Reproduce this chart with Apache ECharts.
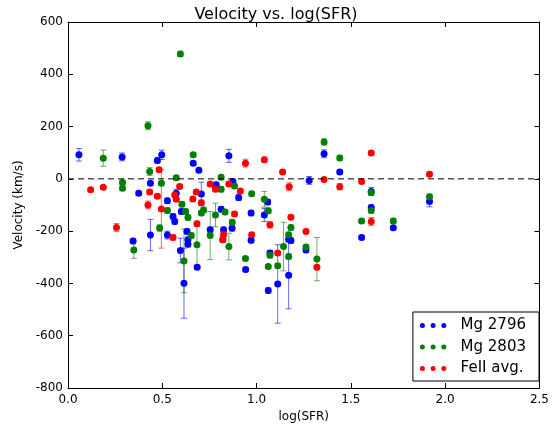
<!DOCTYPE html>
<html>
<head>
<meta charset="utf-8">
<script src="https://cdn.jsdelivr.net/npm/echarts@6/dist/echarts.min.js"></script>
<style>html,body{margin:0;padding:0;background:#fff}#c{width:552px;height:429px}</style>
</head>
<body>
<div id="c"></div>
<script>
// [logSFR, velocity, error]
const mg2796 = [
  [0.058, 92, 24], [0.287, 84, 15], [0.474, 70, 10], [0.497, 92, 18], [0.664, 60, 8],
  [0.694, 33, 8], [0.853, 88, 25], [0.375, -55, 8], [0.437, -17, 8], [0.345, -238, 10],
  [0.437, -215, 60], [0.527, -84, 10], [0.574, -55, 15], [0.557, -144, 10], [0.566, -163, 10],
  [0.527, -215, 15], [0.601, -125, 10], [0.596, -274, 47], [0.615, -399, 134], [0.631, -201, 10],
  [0.636, -233, 10], [0.636, -250, 10], [0.685, -338, 8], [0.707, -58, 45], [0.754, -195, 10],
  [0.782, -29, 10], [0.812, -116, 10], [0.825, -195, 10], [0.874, -10, 10], [0.870, -189, 10],
  [0.905, -71, 12], [0.942, -347, 8], [0.971, -131, 10], [0.971, -235, 10], [1.041, -138, 25],
  [1.059, -89, 10], [1.062, -427, 10], [1.071, -284, 10], [1.112, -402, 150], [1.170, -231, 10],
  [1.182, -236, 10], [1.170, -369, 128], [1.262, -272, 10], [1.279, -6, 15], [1.358, 96, 15],
  [1.441, 26, 8], [1.557, -224, 8], [1.608, -48, 15], [1.608, -110, 10], [1.725, -187, 8],
  [1.917, -87, 20], [0.786, -23, 10]
];
const mg2803 = [
  [0.187, 79, 31], [0.424, 203, 15], [0.596, 478, 10], [0.433, 28, 15], [0.574, 4, 8],
  [0.664, 92, 8], [0.812, 6, 8], [0.289, -14, 8], [0.289, -36, 8], [0.349, -272, 32],
  [0.495, -17, 8], [0.486, -188, 12], [0.527, -121, 10], [0.604, -97, 10], [0.624, -125, 10],
  [0.636, -148, 10], [0.615, -314, 122], [0.684, -252, 83], [0.707, -131, 10], [0.719, -119, 10],
  [0.754, -217, 92], [0.782, -138, 45], [0.812, -40, 10], [0.833, -127, 10], [0.853, -259, 51],
  [0.871, -166, 10], [0.883, -27, 10], [0.941, -305, 8], [0.974, -57, 8], [1.041, -78, 30],
  [1.062, -122, 10], [1.062, -335, 8], [1.071, -292, 10], [1.112, -332, 8], [1.143, -259, 93],
  [1.170, -214, 10], [1.182, -186, 10], [1.170, -297, 10], [1.262, -261, 8], [1.320, -307, 83],
  [1.358, 141, 12], [1.441, 80, 10], [1.557, -161, 8], [1.608, -52, 10], [1.608, -121, 10],
  [1.725, -161, 10], [1.917, -68, 10], [0.821, -233, 10], [0.654, -217, 10]
];
const feII = [
  [0.120, -42, 6], [0.187, -32, 6], [0.257, -186, 15], [0.424, -100, 15], [0.433, -50, 8],
  [0.483, 35, 8], [0.474, -67, 8], [0.495, -115, 150], [0.566, -62, 8], [0.574, -78, 8],
  [0.592, -29, 8], [0.557, -224, 10], [0.662, -77, 8], [0.680, -50, 8], [0.707, -91, 10],
  [0.684, -172, 10], [0.754, -20, 8], [0.782, -40, 8], [0.825, -214, 10], [0.853, -20, 8],
  [0.883, -134, 8], [0.914, -46, 8], [0.941, 60, 15], [0.974, -214, 8], [1.041, 73, 10],
  [1.071, -176, 12], [1.112, -284, 8], [1.138, 26, 8], [1.173, -30, 15], [1.182, -147, 8],
  [1.262, -201, 8], [1.320, -338, 8], [1.358, -2, 6], [1.441, -30, 12], [1.557, -10, 6],
  [1.608, 99, 8], [1.608, -163, 15], [1.917, 18, 8], [0.821, -233, 10]
];
const seriesNames = ['Mg 2796', 'Mg 2803', 'FeII avg.'];
const seriesColors = ['#0000ff', '#008000', '#ff0000'];
const xTicks = [0, 0.5, 1.0, 1.5, 2.0, 2.5];
const yTicks = [-800, -600, -400, -200, 0, 200, 400, 600];

const chart = echarts.init(document.getElementById('c'), null, {renderer: 'canvas'});
const font = 'DejaVu Sans';
const dots = 'path://M0,2.5a2.5,2.5 0 1,0 5,0a2.5,2.5 0 1,0 -5,0Z M10.7,2.5a2.5,2.5 0 1,0 5,0a2.5,2.5 0 1,0 -5,0Z M21.4,2.5a2.5,2.5 0 1,0 5,0a2.5,2.5 0 1,0 -5,0Z';

function errSeries(data, color) {
  return {
    type: 'custom',
    data: data,
    encode: {x: 0, y: 1},
    silent: true,
    renderItem: function (params, api) {
      const x = api.value(0), y = api.value(1), e = api.value(2);
      const top = api.coord([x, y + e]);
      const bot = api.coord([x, y - e]);
      const c = 3;
      const st = {stroke: color, lineWidth: 1, opacity: 0.6};
      return {
        type: 'group',
        children: [
          {type: 'line', shape: {x1: top[0], y1: top[1], x2: bot[0], y2: bot[1]}, style: st},
          {type: 'line', shape: {x1: top[0] - c, y1: top[1], x2: top[0] + c, y2: top[1]}, style: st},
          {type: 'line', shape: {x1: bot[0] - c, y1: bot[1], x2: bot[0] + c, y2: bot[1]}, style: st}
        ]
      };
    }
  };
}
function ptSeries(name, data, color) {
  return {
    type: 'scatter', name: name, data: data.map(d => [d[0], d[1]]),
    symbolSize: 7, itemStyle: {color: color, opacity: 1},
    legendIcon: dots
  };
}
const datasets = [mg2796, mg2803, feII];
const series = [{
  type: 'line', data: [[0, 0], [2.5, 0]], symbol: 'none', silent: true,
  lineStyle: {color: '#000', width: 1, type: [6, 4]}
}];
datasets.forEach((d, i) => {
  series.push(errSeries(d, seriesColors[i]));
  series.push(ptSeries(seriesNames[i], d, seriesColors[i]));
});

const axisCommon = {
  axisLine: {show: true, onZero: false, lineStyle: {color: '#000', width: 1}},
  axisTick: {show: true, inside: true, length: 5, lineStyle: {color: '#000'}},
  splitLine: {show: false}
};
chart.setOption({
  animation: false,
  backgroundColor: '#fff',
  title: {
    text: 'Velocity vs. log(SFR)', left: 'center', top: 2,
    textStyle: {fontFamily: font, fontSize: 16, fontWeight: 'normal', color: '#000'}
  },
  grid: {left: 68, right: 11, top: 22, bottom: 41, containLabel: false},
  legend: {
    orient: 'vertical', right: 13, bottom: 48,
    data: seriesNames.map(n => ({name: n, icon: dots})),
    itemWidth: 27, itemHeight: 5, itemGap: 6.5,
    padding: [6, 13, 5, 7],
    borderColor: '#000', borderWidth: 1, borderRadius: 0,
    backgroundColor: '#fff',
    textStyle: {fontFamily: font, fontSize: 15, color: '#000', padding: [0, 0, 0, 9]}
  },
  xAxis: [
    Object.assign({
      type: 'value', min: 0, max: 2.5, interval: 0.5, position: 'bottom',
      name: 'log(SFR)', nameLocation: 'middle', nameGap: 23,
      nameTextStyle: {fontFamily: font, fontSize: 12, color: '#000'},
      axisLabel: {fontFamily: font, fontSize: 12, color: '#000', margin: 6,
        formatter: v => v.toFixed(1)}
    }, axisCommon),
    Object.assign({
      type: 'value', min: 0, max: 2.5, interval: 0.5, position: 'top',
      axisLabel: {show: false}
    }, axisCommon)
  ],
  yAxis: [
    Object.assign({
      type: 'value', min: -800, max: 600, interval: 200, position: 'left',
      name: 'Velocity (km/s)', nameLocation: 'middle', nameGap: 43, nameRotate: 90,
      nameTextStyle: {fontFamily: font, fontSize: 12, color: '#000'},
      axisLabel: {fontFamily: font, fontSize: 12, color: '#000', margin: 5}
    }, axisCommon),
    Object.assign({
      type: 'value', min: -800, max: 600, interval: 200, position: 'right',
      axisLabel: {show: false}
    }, axisCommon)
  ],
  series: series
});
</script>
</body>
</html>
